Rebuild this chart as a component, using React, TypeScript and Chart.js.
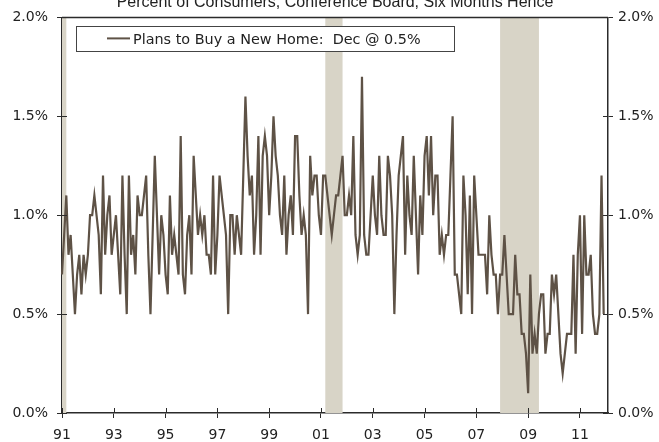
import React, { useEffect, useRef } from "react";
import { Chart, registerables } from "chart.js";

Chart.register(...registerables);

// ---------- data ----------
const START_YEAR = 1991;
const AXIS_MONTH_COUNT = 254; // Jan 1991 .. Feb 2012 (axis extent)

const monthLabels: string[] = Array.from({ length: AXIS_MONTH_COUNT }, (_, i) => {
  const yr = START_YEAR + Math.floor(i / 12);
  const mo = (i % 12) + 1;
  return `${yr}-${String(mo).padStart(2, "0")}`;
});

// Plans to Buy a New Home, % of consumers (monthly, Jan 1991 .. Dec 2011)
const plansToBuyNewHome: number[] = [
  // 1991
  0.7, 0.9, 1.1, 0.8, 0.9, 0.7, 0.5, 0.7, 0.8, 0.6, 0.8, 0.7,
  // 1992
  0.8, 1.0, 1.0, 1.1, 1.0, 0.9, 0.6, 1.2, 0.8, 1.0, 1.1, 0.8,
  // 1993
  0.9, 1.0, 0.8, 0.6, 1.2, 0.8, 0.5, 1.2, 0.8, 0.9, 0.7, 1.1,
  // 1994
  1.0, 1.0, 1.1, 1.2, 0.8, 0.5, 0.9, 1.3, 1.0, 0.7, 1.0, 0.9,
  // 1995
  0.7, 0.6, 1.1, 0.8, 0.9, 0.8, 0.7, 1.4, 0.7, 0.6, 0.9, 1.0,
  // 1996
  0.7, 1.3, 1.1, 0.9, 1.0, 0.9, 1.0, 0.8, 0.8, 0.7, 1.2, 0.7,
  // 1997
  0.9, 1.2, 1.1, 1.0, 0.9, 0.5, 1.0, 1.0, 0.8, 1.0, 0.9, 0.8,
  // 1998
  1.2, 1.6, 1.3, 1.1, 1.2, 0.8, 1.0, 1.4, 0.8, 1.3, 1.4, 1.3,
  // 1999
  1.0, 1.2, 1.5, 1.3, 1.2, 1.0, 0.9, 1.2, 0.8, 1.0, 1.1, 0.9,
  // 2000
  1.4, 1.4, 1.1, 0.9, 1.0, 0.9, 0.5, 1.3, 1.1, 1.2, 1.2, 1.0,
  // 2001
  0.9, 1.2, 1.2, 1.1, 1.0, 0.9, 1.0, 1.1, 1.1, 1.2, 1.3, 1.0,
  // 2002
  1.0, 1.1, 1.0, 1.4, 0.9, 0.8, 0.9, 1.7, 0.9, 0.8, 0.8, 1.0,
  // 2003
  1.2, 1.0, 0.9, 1.3, 1.0, 0.9, 0.9, 1.3, 1.2, 1.0, 0.5, 0.9,
  // 2004
  1.2, 1.3, 1.4, 0.8, 1.2, 1.0, 0.9, 1.3, 1.0, 0.7, 1.1, 0.9,
  // 2005
  1.3, 1.4, 1.1, 1.4, 1.0, 1.2, 1.2, 0.8, 0.9, 0.8, 0.9, 0.9,
  // 2006
  1.2, 1.5, 0.7, 0.7, 0.6, 0.5, 1.2, 1.0, 0.6, 1.1, 0.5, 1.2,
  // 2007
  1.0, 0.8, 0.8, 0.8, 0.8, 0.6, 1.0, 0.8, 0.7, 0.7, 0.5, 0.7,
  // 2008
  0.7, 0.9, 0.7, 0.5, 0.5, 0.5, 0.8, 0.6, 0.6, 0.4, 0.4, 0.3,
  // 2009
  0.1, 0.7, 0.3, 0.4, 0.3, 0.5, 0.6, 0.6, 0.3, 0.4, 0.4, 0.7,
  // 2010
  0.6, 0.7, 0.5, 0.3, 0.2, 0.3, 0.4, 0.4, 0.4, 0.8, 0.3, 0.8,
  // 2011
  1.0, 0.4, 1.0, 0.7, 0.7, 0.8, 0.5, 0.4, 0.4, 0.5, 1.2, 0.5,
];

const recessionStarts = ["1990-07", "2001-03", "2007-12"];
const recessionEnds = ["1991-03", "2001-11", "2009-06"];

const xTickYears = [1991, 1993, 1995, 1997, 1999, 2001, 2003, 2005, 2007, 2009, 2011];
const yTickValues = [0, 0.5, 1.0, 1.5, 2.0];

const TITLE_TEXT = "Percent of Consumers, Conference Board, Six Months Hence";
const SERIES_NAME = "Plans to Buy a New Home:";
const LAST_MONTH_NAME = "Dec";

// ---------- styles ----------
const LINE_COLOR = "#5e5246";
const BAND_COLOR = "#d8d4c7";
const AXIS_COLOR = "#2b2b2b";
const TEXT_COLOR = "#222222";
const TICK_FONT = { family: "'DejaVu Sans', Verdana, sans-serif", size: 14 };

const isLabeledIndex = (i: number) =>
  i % 12 === 0 && xTickYears.includes(START_YEAR + Math.floor(i / 12));

const bandsPlugin = {
  id: "recessionBands",
  beforeDatasetsDraw(chart: any) {
    const { ctx, chartArea, scales } = chart;
    const x = scales.x;
    ctx.save();
    ctx.fillStyle = BAND_COLOR;
    for (let k = 0; k < recessionStarts.length; k++) {
      const si = monthLabels.indexOf(recessionStarts[k]);
      const ei = monthLabels.indexOf(recessionEnds[k]);
      const x0 = si < 0 ? chartArea.left : x.getPixelForValue(si);
      const x1 = ei < 0 ? chartArea.right : x.getPixelForValue(ei);
      ctx.fillRect(x0, chartArea.top, x1 - x0, chartArea.bottom - chartArea.top);
    }
    ctx.restore();
  },
};

const framePlugin = {
  id: "frameAndInnerTicks",
  afterDatasetsDraw(chart: any) {
    const { ctx, chartArea, scales } = chart;
    const { left, right, top, bottom } = chartArea;
    ctx.save();
    ctx.strokeStyle = AXIS_COLOR;
    ctx.lineWidth = 1.5;
    ctx.beginPath();
    ctx.moveTo(left, top);
    ctx.lineTo(right, top);
    ctx.stroke();
    ctx.lineWidth = 1;
    ctx.beginPath();
    for (const v of yTickValues) {
      const py = Math.round(scales.y.getPixelForValue(v)) + 0.5;
      ctx.moveTo(left, py);
      ctx.lineTo(left + 5, py);
      ctx.moveTo(right - 5, py);
      ctx.lineTo(right, py);
    }
    for (const yr of xTickYears) {
      const px = Math.round(scales.x.getPixelForValue((yr - START_YEAR) * 12)) + 0.5;
      ctx.moveTo(px, bottom);
      ctx.lineTo(px, bottom - 5);
    }
    ctx.stroke();
    ctx.restore();
  },
  afterDraw(chart: any) {
    const { ctx, chartArea } = chart;
    const { left, right, top } = chartArea;
    ctx.save();
    // title (partly cut by the top edge, as in the reference)
    ctx.fillStyle = TEXT_COLOR;
    ctx.font = "16px 'Liberation Sans', Arial, sans-serif";
    ctx.textAlign = "center";
    ctx.textBaseline = "alphabetic";
    ctx.fillText(TITLE_TEXT, (left + right) / 2, top - 10);

    // legend box
    const last = plansToBuyNewHome[plansToBuyNewHome.length - 1];
    const text = `${SERIES_NAME}  ${LAST_MONTH_NAME} @ ${last.toFixed(1)}%`;
    const bx = left + 14;
    const by = top + 9;
    const bw = 378;
    const bh = 25;
    ctx.fillStyle = "#ffffff";
    ctx.fillRect(bx, by, bw, bh);
    ctx.strokeStyle = "#444444";
    ctx.lineWidth = 1;
    ctx.strokeRect(Math.round(bx) + 0.5, Math.round(by) + 0.5, bw, bh);
    const cy = by + bh / 2;
    ctx.strokeStyle = LINE_COLOR;
    ctx.lineWidth = 2;
    ctx.beginPath();
    ctx.moveTo(bx + 31, cy - 0.5);
    ctx.lineTo(bx + 54, cy - 0.5);
    ctx.stroke();
    ctx.fillStyle = TEXT_COLOR;
    ctx.font = "14.4px 'DejaVu Sans', Verdana, sans-serif";
    ctx.textAlign = "left";
    ctx.textBaseline = "middle";
    ctx.fillText(text, bx + 57, cy + 1);
    ctx.restore();
  },
};

export default function App() {
  const canvasRef = useRef<HTMLCanvasElement | null>(null);

  useEffect(() => {
    const canvas = canvasRef.current;
    if (!canvas) return;
    const yTickCb = (v: any) => Number(v).toFixed(1) + "%";
    const chart = new Chart(canvas, {
      type: "line",
      data: {
        labels: monthLabels,
        datasets: [
          {
            label: SERIES_NAME,
            data: plansToBuyNewHome,
            borderColor: LINE_COLOR,
            backgroundColor: LINE_COLOR,
            borderWidth: 2.2,
            pointRadius: 0,
            tension: 0,
            fill: false,
            yAxisID: "y",
          },
        ],
      },
      options: {
        animation: false,
        responsive: true,
        maintainAspectRatio: false,
        events: [],
        layout: { padding: { top: 14, left: 0, right: 0, bottom: 0 } },
        plugins: {
          legend: { display: false },
          title: { display: false },
          tooltip: { enabled: false },
        },
        scales: {
          x: {
            type: "category",
            grid: {
              drawOnChartArea: false,
              drawTicks: true,
              tickLength: 5,
              lineWidth: 1,
              color: (c: any) => (isLabeledIndex(c.index) ? AXIS_COLOR : "rgba(0,0,0,0)"),
            },
            border: { display: true, color: AXIS_COLOR, width: 1.5 },
            ticks: {
              autoSkip: false,
              maxRotation: 0,
              minRotation: 0,
              padding: 9,
              color: TEXT_COLOR,
              font: TICK_FONT,
              callback: (_v: any, i: number) =>
                isLabeledIndex(i) ? String(START_YEAR + Math.floor(i / 12)).slice(2) : "",
            },
            afterFit: (s: any) => {
              s.height = 29;
            },
          },
          y: {
            position: "left",
            min: 0,
            max: 2,
            grid: { drawOnChartArea: false, tickLength: 5, color: AXIS_COLOR, lineWidth: 1 },
            border: { display: true, color: AXIS_COLOR, width: 1.5 },
            ticks: { stepSize: 0.5, padding: 9, color: TEXT_COLOR, font: TICK_FONT, callback: yTickCb },
            afterFit: (s: any) => {
              s.width = 62;
            },
          },
          y2: {
            position: "right",
            min: 0,
            max: 2,
            grid: { drawOnChartArea: false, tickLength: 5, color: AXIS_COLOR, lineWidth: 1 },
            border: { display: true, color: AXIS_COLOR, width: 1.5 },
            ticks: { stepSize: 0.5, padding: 5, color: TEXT_COLOR, font: TICK_FONT, callback: yTickCb },
            afterFit: (s: any) => {
              s.width = 51;
            },
          },
        },
      },
      plugins: [bandsPlugin, framePlugin],
    } as any);
    return () => chart.destroy();
  }, []);

  return (
    <div style={{ position: "fixed", left: 0, top: 0, width: 659, height: 442, background: "#fff" }}>
      <canvas ref={canvasRef} />
    </div>
  );
}
